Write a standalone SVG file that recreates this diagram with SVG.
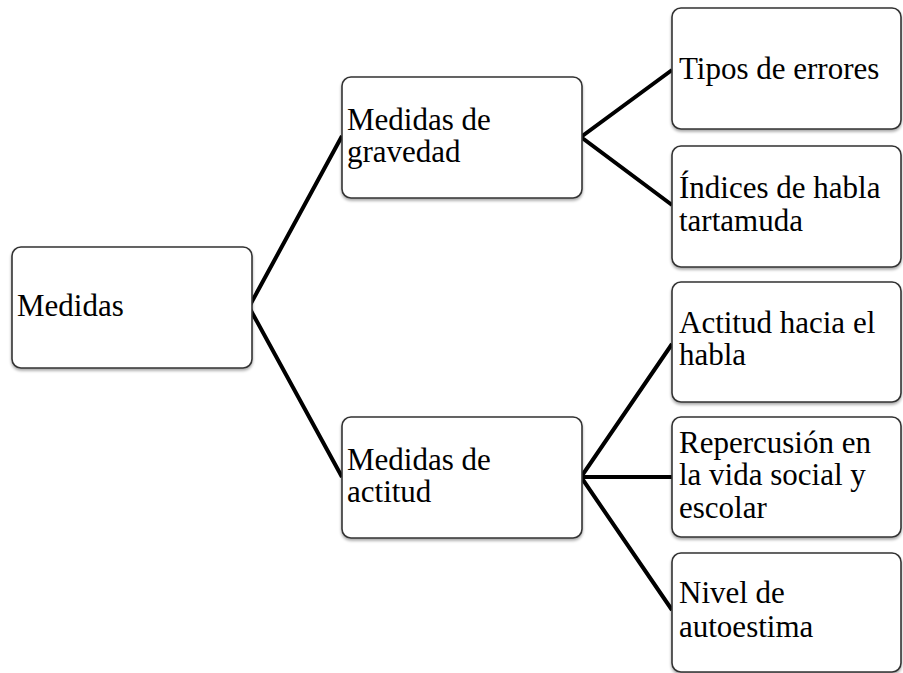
<svg xmlns="http://www.w3.org/2000/svg" width="903" height="673" viewBox="0 0 903 673">
<defs>
<filter id="sh" x="-10%" y="-10%" width="120%" height="125%">
<feGaussianBlur in="SourceAlpha" stdDeviation="1.5"/>
<feOffset dx="0" dy="2" result="b"/>
<feComponentTransfer><feFuncA type="linear" slope="0.35"/></feComponentTransfer>
<feMerge><feMergeNode/><feMergeNode in="SourceGraphic"/></feMerge>
</filter>
</defs>
<style>
.box{fill:#fff;stroke:#333;stroke-width:1.6;filter:url(#sh)}
.t{font-family:"Liberation Serif","Times New Roman",serif;font-size:31px;fill:#000}
.c{stroke:#000;stroke-width:4;fill:none;stroke-linejoin:miter}
</style>
<rect width="903" height="673" fill="#fff"/>
<g id="connectors">
<polyline class="c" points="342,136 249,307 342,477"/>
<polyline class="c" points="672,70 581,137 672,205"/>
<polyline class="c" points="672,344 581,477 672,610"/>
<line class="c" x1="581" y1="477" x2="672" y2="477" stroke-width="5"/>
</g>
<g id="n-medidas">
<rect class="box" x="12" y="247" width="240" height="121" rx="9"/>
<text class="t" x="17" y="316">Medidas</text>
</g>
<g id="n-gravedad">
<rect class="box" x="342" y="77" width="240" height="121" rx="9"/>
<text class="t" x="347" y="130">Medidas de</text>
<text class="t" x="347" y="162">gravedad</text>
</g>
<g id="n-actitud">
<rect class="box" x="342" y="417" width="240" height="121" rx="9"/>
<text class="t" x="347" y="470">Medidas de</text>
<text class="t" x="347" y="502">actitud</text>
</g>
<g id="n-tipos">
<rect class="box" x="672" y="8" width="229" height="121" rx="9"/>
<text class="t" x="679" y="79">Tipos de errores</text>
</g>
<g id="n-indices">
<rect class="box" x="672" y="146" width="229" height="121" rx="9"/>
<text class="t" x="679" y="198">Índices de habla</text>
<text class="t" x="679" y="231">tartamuda</text>
</g>
<g id="n-actitud-habla">
<rect class="box" x="672" y="282" width="229" height="120" rx="9"/>
<text class="t" x="679" y="333">Actitud hacia el</text>
<text class="t" x="679" y="365">habla</text>
</g>
<g id="n-repercusion">
<rect class="box" x="672" y="417" width="229" height="120" rx="9"/>
<text class="t" x="679" y="453">Repercusión en</text>
<text class="t" x="679" y="485">la vida social y</text>
<text class="t" x="679" y="518">escolar</text>
</g>
<g id="n-nivel">
<rect class="box" x="672" y="553" width="229" height="119" rx="9"/>
<text class="t" x="679" y="603">Nivel de</text>
<text class="t" x="679" y="637">autoestima</text>
</g>
</svg>
